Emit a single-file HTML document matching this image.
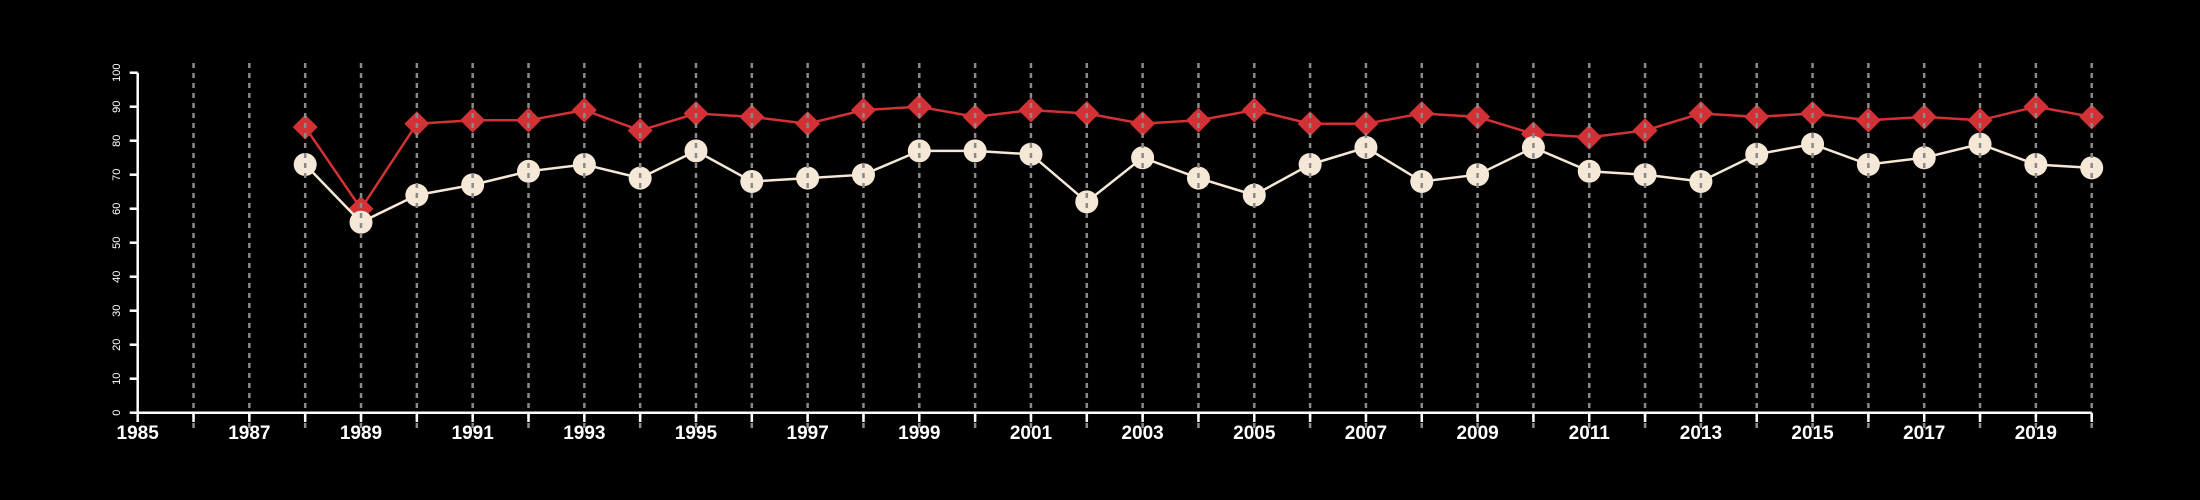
<!DOCTYPE html>
<html><head><meta charset="utf-8"><style>
html,body{margin:0;padding:0;background:#000;}
svg{display:block;font-family:"Liberation Sans",sans-serif;}
</style></head><body>
<svg id="chart" width="2200" height="500" viewBox="0 0 2200 500" xmlns="http://www.w3.org/2000/svg">
<rect width="2200" height="500" fill="#000"/>
<g id="series"></g>
<g id="grid"></g>
<g id="axes"></g>
</svg>
<script>
const years = [1988,1989,1990,1991,1992,1993,1994,1995,1996,1997,1998,1999,2000,2001,2002,2003,2004,2005,2006,2007,2008,2009,2010,2011,2012,2013,2014,2015,2016,2017,2018,2019,2020];
const whiteSeries = [73,56,64,67,71,73,69,77,68,69,70,77,77,76,62,75,69,64,73,78,68,70,78,71,70,68,76,79,73,75,79,73,72];
const redSeries = [84,60,85,86,86,89,83,88,87,85,89,90,87,89,88,85,86,89,85,85,88,87,82,81,83,88,87,88,86,87,86,90,87];
const yTicks = [0,10,20,30,40,50,60,70,80,90,100];
const xLabelYears = [1985,1987,1989,1991,1993,1995,1997,1999,2001,2003,2005,2007,2009,2011,2013,2015,2017,2019];
const xMin = 1985, xMax = 2020;

const NS = "http://www.w3.org/2000/svg";
const X0 = 137.7, X1 = 2091.7, Y0 = 412.7, Y1 = 72.7;
const xs = v => X0 + (v - xMin) * (X1 - X0) / (xMax - xMin);
const ys = v => Y0 + (v - 0) * (Y1 - Y0) / 100;
function mk(tag, attrs, parent) {
  const e = document.createElementNS(NS, tag);
  for (const k in attrs) e.setAttribute(k, attrs[k]);
  parent.appendChild(e);
  return e;
}
const grid = document.getElementById('grid');
const axes = document.getElementById('axes');
const series = document.getElementById('series');

// vertical dashed gridlines
for (let yr = xMin + 1; yr <= xMax; yr++) {
  const l = mk('line', {x1: xs(yr), x2: xs(yr), y1: 63, y2: 428, stroke: '#8a8a8a', 'stroke-width': 2.5, 'stroke-dasharray': '5 5'}, grid);
  
  
}

// axes
const xa = mk('line', {x1: X0, x2: X1, y1: Y0, y2: Y0, stroke: '#fff', 'stroke-width': 2.5}, axes);


const ya = mk('line', {x1: X0, x2: X0, y1: Y0, y2: Y1, stroke: '#fff', 'stroke-width': 2.5}, axes);



for (let yr = xMin; yr <= xMax; yr++) {
  const t = mk('line', {x1: xs(yr), x2: xs(yr), y1: Y0, y2: 422, stroke: '#fff', 'stroke-width': 2.5}, axes);
  
  
}
xLabelYears.forEach(yr => {
  const t = mk('text', {x: xs(yr), y: 439, fill: '#fff', 'font-size': 19, 'font-weight': 'bold', 'text-anchor': 'middle'}, axes);
  t.textContent = yr;
  
  
});
yTicks.forEach(v => {
  const t = mk('line', {x1: X0, x2: X0 - 8, y1: ys(v), y2: ys(v), stroke: '#fff', 'stroke-width': 2.5}, axes);
  
  
  const lb = mk('text', {x: 0, y: 0, fill: '#fff', 'font-size': 11, 'text-anchor': 'middle', transform: `translate(120,${ys(v)}) rotate(-90)`}, axes);
  lb.textContent = v;
  
  
});

function drawSeries(vals, color, kind, name) {
  const pts = years.map((y, i) => xs(y) + ',' + ys(vals[i])).join(' ');
  const pl = mk('polyline', {points: pts, fill: 'none', stroke: color, 'stroke-width': 2.5}, series);
  
  
  years.forEach((y, i) => {
    const cx = xs(y), cy = ys(vals[i]);
    let m;
    if (kind === 'circle') {
      m = mk('circle', {cx: cx, cy: cy, r: 11.5, fill: color}, series);
    } else {
      const h = 12.5;
      m = mk('polygon', {points: `${cx},${cy-h} ${cx+h},${cy} ${cx},${cy+h} ${cx-h},${cy}`, fill: color}, series);
    }
    
    
  });
}
drawSeries(redSeries, '#d23236', 'diamond', 'red-series');
drawSeries(whiteSeries, '#f6e8d6', 'circle', 'cream-series');
</script>
</body></html>
